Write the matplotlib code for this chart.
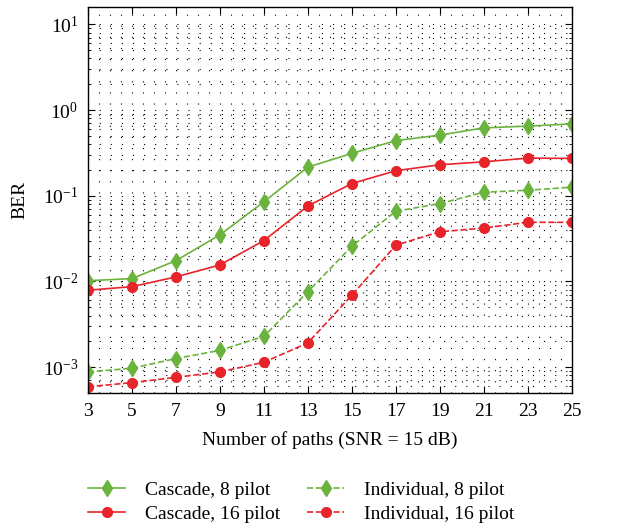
import matplotlib
matplotlib.use("Agg")
import matplotlib.pyplot as plt
from matplotlib.ticker import MultipleLocator, LogLocator, NullFormatter

plt.rcParams["font.family"] = ["Liberation Serif", "DejaVu Serif"]
plt.rcParams["mathtext.fontset"] = "stix"

# du lieu doc tu hinh
paths = [3, 5, 7, 9, 11, 13, 15, 17, 19, 21, 23, 25]
cascade_8 = [0.0102, 0.0108, 0.0175, 0.035, 0.085, 0.216, 0.312, 0.44, 0.51, 0.62, 0.65, 0.69]
cascade_16 = [0.0079, 0.0087, 0.0113, 0.0156, 0.030, 0.076, 0.139, 0.196, 0.23, 0.249, 0.275, 0.273]
indiv_8 = [8.8e-4, 9.7e-4, 1.26e-3, 1.57e-3, 2.29e-3, 7.6e-3, 0.0258, 0.066, 0.081, 0.110, 0.116, 0.126]
indiv_16 = [5.9e-4, 6.6e-4, 7.6e-4, 8.8e-4, 1.14e-3, 1.92e-3, 6.9e-3, 0.0265, 0.038, 0.042, 0.049, 0.049]
xticks = list(range(3, 26, 2))

green = "#6ab43e"
red = "#e8232a"

fig = plt.figure(figsize=(6.21, 5.31), dpi=100)
ax = fig.add_axes([0.1417, 0.26, 0.779, 0.727])

ax.plot(paths, cascade_8, "-", color=green, marker="d", ms=8.5, lw=1.2, label="Cascade, 8 pilot")
ax.plot(paths, indiv_8, "--", color=green, marker="d", ms=8.5, lw=1.2, label="Individual, 8 pilot")
ax.plot(paths, cascade_16, "-", color=red, marker="o", ms=7, lw=1.2, label="Cascade, 16 pilot")
ax.plot(paths, indiv_16, "--", color=red, marker="o", ms=7, lw=1.2, label="Individual, 16 pilot")

ax.set_yscale("log")
ax.set_xlim(3, 25)
ax.set_ylim(5e-4, 16)
ax.set_xticks(xticks)
ax.xaxis.set_minor_locator(MultipleLocator(0.5))
ax.yaxis.set_major_locator(LogLocator(base=10, numticks=10))
ax.yaxis.set_minor_locator(LogLocator(base=10, subs=range(2, 10), numticks=20))
ax.yaxis.set_minor_formatter(NullFormatter())

ax.grid(True, which="major", linestyle=(0, (1, 9)), color="black", lw=0.8)
ax.grid(True, which="minor", linestyle=(0, (1, 9)), color="black", lw=0.8)
ax.tick_params(which="both", direction="in", top=True, right=True, labelsize=14)
ax.tick_params(which="major", length=5, pad=7)
ax.tick_params(which="minor", length=2.5)
ax.tick_params(axis="x", which="minor", length=0)
for s in ax.spines.values():
    s.set_linewidth(1.0)

ax.set_xlabel("Number of paths (SNR = 15 dB)", fontsize=14, labelpad=8)
ax.set_ylabel("BER", fontsize=14, labelpad=10)

h, l = ax.get_legend_handles_labels()
order = [0, 2, 1, 3]
fig.legend([h[i] for i in order], [l[i] for i in order], ncol=2, frameon=False,
           loc="lower left", bbox_to_anchor=(0.114, -0.018), fontsize=14,
           columnspacing=1.4, handlelength=1.9, handletextpad=1.0, labelspacing=0.35)

fig.savefig("out.png", dpi=100)
